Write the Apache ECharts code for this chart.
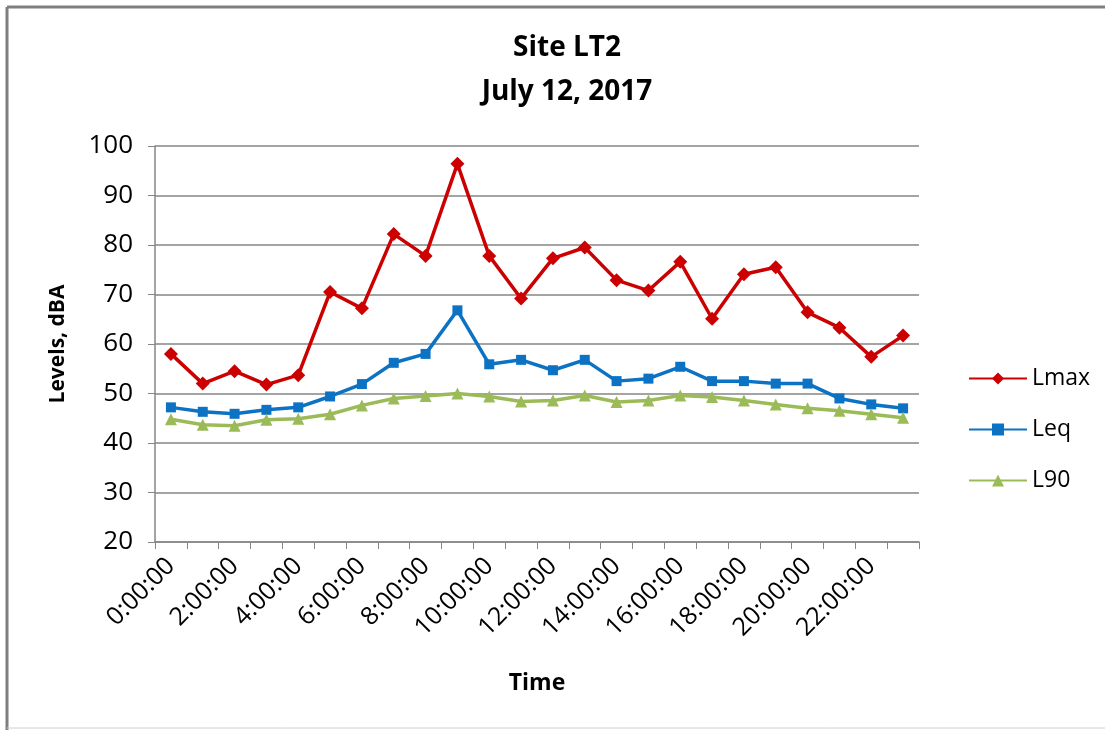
<!DOCTYPE html>
<html>
<head>
<meta charset="utf-8">
<script src="https://cdn.jsdelivr.net/npm/echarts@6/dist/echarts.min.js"></script>
<style>
html,body{margin:0;padding:0;background:#fff;}
#main{width:1105px;height:730px;}
</style>
</head>
<body>
<div id="main"></div>
<script>
var categories = ['0:00:00','1:00:00','2:00:00','3:00:00','4:00:00','5:00:00','6:00:00','7:00:00','8:00:00','9:00:00','10:00:00','11:00:00','12:00:00','13:00:00','14:00:00','15:00:00','16:00:00','17:00:00','18:00:00','19:00:00','20:00:00','21:00:00','22:00:00','23:00:00'];
var lmax = [58.0, 52.0, 54.5, 51.8, 53.7, 70.5, 67.2, 82.2, 77.8, 96.4, 77.8, 69.2, 77.3, 79.5, 72.9, 70.8, 76.6, 65.1, 74.1, 75.5, 66.4, 63.3, 57.4, 61.7];
var leq = [47.2, 46.3, 45.9, 46.7, 47.2, 49.4, 51.9, 56.2, 58.0, 66.8, 55.9, 56.8, 54.7, 56.8, 52.5, 53.0, 55.4, 52.5, 52.5, 52.0, 52.0, 49.0, 47.8, 47.0];
var l90 = [44.8, 43.7, 43.5, 44.7, 44.9, 45.8, 47.6, 49.0, 49.5, 50.0, 49.4, 48.4, 48.6, 49.6, 48.3, 48.6, 49.6, 49.3, 48.6, 47.8, 47.0, 46.5, 45.8, 45.1];
var seriesNames = ['Lmax', 'Leq', 'L90'];
var titleLines = ['Site LT2', 'July 12, 2017'];

var FONT = 'Open Sans';
var chart = echarts.init(document.getElementById('main'));
chart.setOption({
  animation: false,
  backgroundColor: '#ffffff',
  title: {
    text: titleLines.join('\n'),
    left: 562, top: 21, textAlign: 'center',
    textStyle: {fontFamily: FONT, fontWeight: 'bold', fontSize: 28, lineHeight: 44, color: '#000'}
  },
  legend: {
    orient: 'vertical', left: 963, top: 362, itemGap: 28,
    itemWidth: 58, itemHeight: 15,
    textStyle: {fontFamily: FONT, fontSize: 23, color: '#000'},
    data: seriesNames
  },
  grid: {left: 155, top: 146, right: 186, bottom: 188, containLabel: false},
  xAxis: {
    type: 'category', data: categories, boundaryGap: true,
    name: 'Time', nameLocation: 'middle', nameGap: 130,
    nameTextStyle: {fontFamily: FONT, fontWeight: 'bold', fontSize: 23, color: '#000'},
    axisLine: {lineStyle: {color: '#868686', width: 1.5}},
    axisTick: {show: true, interval: 0, length: 7, lineStyle: {color: '#868686'}},
    axisLabel: {interval: 1, rotate: 45, fontFamily: FONT, fontSize: 25, color: '#000', margin: 20}
  },
  yAxis: {
    type: 'value', min: 20, max: 100, interval: 10,
    name: 'Levels, dBA', nameLocation: 'middle', nameGap: 86,
    nameTextStyle: {fontFamily: FONT, fontWeight: 'bold', fontSize: 21, color: '#000'},
    axisLine: {show: true, lineStyle: {color: '#868686', width: 1.5}},
    axisTick: {show: true, length: 7, lineStyle: {color: '#868686'}},
    axisLabel: {fontFamily: FONT, fontSize: 26, color: '#000', margin: 22},
    splitLine: {lineStyle: {color: '#868686', width: 1.5}}
  },
  series: [
    {name: seriesNames[0], type: 'line', data: lmax, symbol: 'diamond', symbolSize: 14,
     lineStyle: {color: '#CC0000', width: 3.5}, itemStyle: {color: '#CC0000'}},
    {name: seriesNames[1], type: 'line', data: leq, symbol: 'rect', symbolSize: 10,
     lineStyle: {color: '#0B72C4', width: 3.5}, itemStyle: {color: '#0B72C4'}},
    {name: seriesNames[2], type: 'line', data: l90, symbol: 'triangle', symbolSize: 12,
     lineStyle: {color: '#9BBB59', width: 3.5}, itemStyle: {color: '#9BBB59'}}
  ],
  graphic: [
    {type: 'line', shape: {x1: 7, y1: 7, x2: 7, y2: 730}, style: {stroke: '#7f7f7f', lineWidth: 3}},
    {type: 'line', shape: {x1: 7, y1: 7, x2: 1105, y2: 7}, style: {stroke: '#7f7f7f', lineWidth: 3}},
    {type: 'line', shape: {x1: 7, y1: 728, x2: 1105, y2: 728}, style: {stroke: '#d0d0d0', lineWidth: 1}}
  ]
});
</script>
</body>
</html>
